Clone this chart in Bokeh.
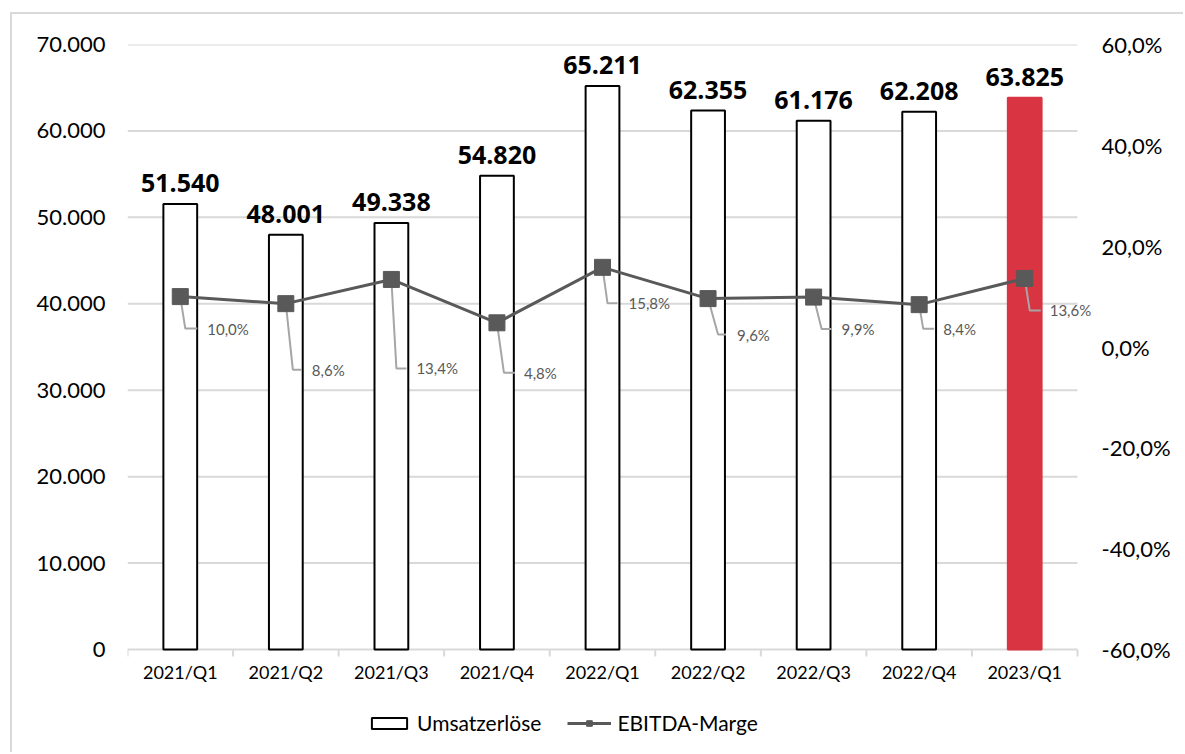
from bokeh.plotting import figure
from bokeh.models import (Range1d, LinearAxis, FixedTicker, ColumnDataSource,
                          Legend, LegendItem)
from bokeh.core.properties import value
from bokeh.embed import file_html
from bokeh.resources import INLINE

# ---- data ----
categories = ["2021/Q1", "2021/Q2", "2021/Q3", "2021/Q4", "2022/Q1",
              "2022/Q2", "2022/Q3", "2022/Q4", "2023/Q1"]
revenue = [51540, 48001, 49338, 54820, 65211, 62355, 61176, 62208, 63825]
margin = [10.0, 8.6, 13.4, 4.8, 15.8, 9.6, 9.9, 8.4, 13.6]
revenue_labels = ["51.540", "48.001", "49.338", "54.820", "65.211",
                  "62.355", "61.176", "62.208", "63.825"]
margin_labels = ["10,0%", "8,6%", "13,4%", "4,8%", "15,8%",
                 "9,6%", "9,9%", "8,4%", "13,6%"]
left_ticks = [0, 10000, 20000, 30000, 40000, 50000, 60000, 70000]
right_ticks = [-60, -40, -20, 0, 20, 40, 60]

# ---- layout / style for data labels (pixel offsets) ----
label_dy = [32, 66, 89, 50, 36, 36, 32, 24, 32]   # label below marker
corner_dx = [5, 7, 5, 7, 5, 10, 8, 4, 5]
end_dx = [17, 16, 15, 18, 15, 18, 18, 15, 16]
text_dx = [27, 26, 25, 27, 26, 29, 28, 24, 25]

FONT = "Lato"
BOLD_FONT = "Open Sans"
N = len(categories)
CAT_PX = 105.56          # pixel width of one category slot
EXTRA_PX = 18            # frame extends a little past the last category
PLOT_PX = 605            # pixel height of the value area
BELOW_PX = 103           # room under the value area for axis labels + legend
FW = int(round(CAT_PX * N + EXTRA_PX))
FH = PLOT_PX + BELOW_PX
L0, L1 = 0, 70000
R0, R1 = -60, 60
X0 = 0.5
X1 = N + 0.5 + EXTRA_PX / CAT_PX
l_per_px = (L1 - L0) / PLOT_PX
r_per_px = (R1 - R0) / PLOT_PX
px_x = (X1 - X0) / FW

xs = list(range(1, N + 1))
colors = ["white"] * (N - 1) + ["#D83442"]
lines = ["black"] * (N - 1) + ["#D83442"]

p = figure(frame_width=FW, frame_height=FH, output_backend="svg", toolbar_location=None,
           x_range=Range1d(X0, X1), y_range=Range1d(L0 - BELOW_PX * l_per_px, L1),
           min_border_left=115, min_border_right=88, min_border_top=30, min_border_bottom=0,
           background_fill_color="white", border_fill_color="white")
p.styles = {"margin-left": "10px", "margin-top": "12px",
            "border-left": "2px solid #d9d9d9", "border-top": "2px solid #d9d9d9"}
p.outline_line_color = None
p.extra_y_ranges = {"pct": Range1d(R0 - BELOW_PX * r_per_px, R1)}

# grid (drawn only across the category slots)
p.xgrid.visible = False
p.ygrid.visible = False
p.segment(x0=[X0] * len(left_ticks), x1=[N + 0.5] * len(left_ticks),
          y0=left_ticks, y1=left_ticks, line_color="#d9d9d9", line_width=2)

# category axis (ticks between categories + labels)
bounds = [x - 0.5 for x in xs] + [xs[-1] + 0.5]
p.segment(x0=bounds, x1=bounds, y0=[0] * len(bounds), y1=[-7 * l_per_px] * len(bounds),
          line_color="#d9d9d9", line_width=2)
p.text(x=xs, y=[0] * N, text=categories, y_offset=22, text_align="center",
       text_baseline="middle", text_font=value(FONT), text_font_size="18px",
       text_color="black")

# bars
src = ColumnDataSource(dict(x=xs, top=revenue, fill=colors, line=lines, lab=revenue_labels))
bars = p.vbar(x="x", top="top", width=0.32, source=src, fill_color="fill",
              line_color="line", line_width=2)
p.text(x="x", y="top", text="lab", source=src, text_align="center",
       text_baseline="bottom", y_offset=-12, text_font=value(BOLD_FONT),
       text_font_style="bold", text_font_size="25px", text_color="black")

# leader lines
lx, ly = [], []
for i in range(N):
    yy = margin[i] - label_dy[i] * r_per_px
    lx.append([xs[i], xs[i] + corner_dx[i] * px_x, xs[i] + end_dx[i] * px_x])
    ly.append([margin[i], yy, yy])
p.multi_line(xs=lx, ys=ly, line_color="#a6a6a6", line_width=2, y_range_name="pct")

# margin line
msrc = ColumnDataSource(dict(x=xs, y=margin, lab=margin_labels, dy=label_dy, dx=text_dx))
ln = p.line(x="x", y="y", source=msrc, line_color="#595959", line_width=3, y_range_name="pct")
sc = p.scatter(x="x", y="y", source=msrc, marker="square", size=16, fill_color="#595959",
               line_color="#595959", y_range_name="pct")
p.text(x="x", y="y", text="lab", source=msrc, x_offset="dx", y_offset="dy",
       text_align="left", text_baseline="middle", text_font=value(FONT),
       text_font_size="15px", text_color="#595959", y_range_name="pct")

# axes
p.xaxis.visible = False

ya = p.yaxis[0]
ya.ticker = FixedTicker(ticks=left_ticks)
ya.major_label_overrides = {t: f"{t:,}".replace(",", ".") for t in left_ticks}
ya.axis_line_color = None
ya.major_tick_line_color = None
ya.minor_tick_line_color = None
ya.major_tick_out = 0
ya.major_tick_in = 0
ya.major_label_standoff = 22
ya.major_label_text_font = FONT
ya.major_label_text_font_size = "22px"
ya.major_label_text_color = "black"

ra = LinearAxis(y_range_name="pct", ticker=FixedTicker(ticks=right_ticks))
ra.major_label_overrides = {t: f"{t:.1f}".replace(".", ",") + "%" for t in right_ticks}
ra.axis_line_color = None
ra.major_tick_line_color = None
ra.minor_tick_line_color = None
ra.major_tick_out = 0
ra.major_tick_in = 0
ra.major_label_standoff = 6
ra.major_label_text_font = FONT
ra.major_label_text_font_size = "22px"
ra.major_label_text_color = "black"
p.add_layout(ra, "right")

# legend (inside the lower part of the frame)
legend = Legend(items=[LegendItem(label="Umsatzerlöse", renderers=[bars], index=0),
                       LegendItem(label="EBITDA-Marge", renderers=[ln, sc], index=0)],
                orientation="horizontal", location=(240, 17),
                glyph_width=44, glyph_height=14, label_standoff=6, spacing=26,
                padding=0, margin=0, background_fill_alpha=0, border_line_alpha=0,
                label_text_font=FONT, label_text_font_size="21px", label_text_color="black")
p.add_layout(legend, "center")

open("out.html", "w").write(file_html(p, INLINE))
